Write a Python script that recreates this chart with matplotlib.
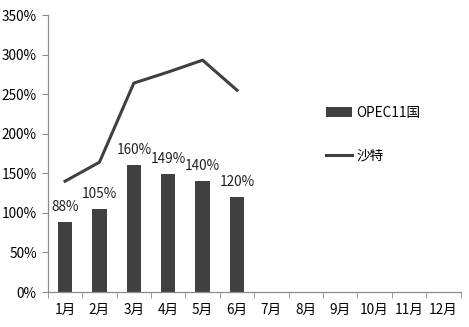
import matplotlib
matplotlib.use("Agg")
import matplotlib.pyplot as plt
from matplotlib.ticker import FuncFormatter, FixedLocator
import numpy as np

plt.rcParams['font.family'] = ['Noto Sans CJK SC', 'DejaVu Sans']

months = ["1月", "2月", "3月", "4月", "5月", "6月", "7月", "8月", "9月", "10月", "11月", "12月"]
opec11 = [88, 105, 160, 149, 140, 120]
saudi = [140, 164, 264, 278, 293, 255]

BAR_C = "#404040"
AX_C = "#8c8c8c"

fig = plt.figure(figsize=(4.69, 3.27), dpi=100)
ax = fig.add_axes([0.102, 0.107, 0.880, 0.847])

x_bar = np.arange(len(opec11))
bars = ax.bar(x_bar, opec11, width=0.42, color=BAR_C, label="OPEC11国", zorder=2)
for xi, v in zip(x_bar, opec11):
    ax.text(xi, v + 10, f"{v}%", ha="center", va="bottom", fontsize=9.8, color="#222222")

line, = ax.plot(np.arange(len(saudi)), saudi, color=BAR_C, lw=2.2, label="沙特", zorder=3)

ax.set_xlim(-0.5, len(months) - 0.5)
ax.set_ylim(0, 350)
ax.set_xticks(np.arange(len(months)))
ax.set_xticklabels(months, fontsize=9.8)
ax.xaxis.set_minor_locator(FixedLocator(np.arange(-0.5, len(months), 1)))
ax.tick_params(axis="x", which="major", length=0, pad=8)
ax.tick_params(axis="x", which="minor", length=4, color=AX_C, direction="out")
ax.set_yticks(np.arange(0, 351, 50))
ax.yaxis.set_major_formatter(FuncFormatter(lambda v, p: f"{int(v)}%"))
ax.tick_params(axis="y", length=4, color=AX_C, labelsize=9.8, pad=4)

for s in ["top", "right"]:
    ax.spines[s].set_visible(False)
for s in ["left", "bottom"]:
    ax.spines[s].set_color(AX_C)
    ax.spines[s].set_linewidth(0.9)

ax.legend([bars, line], ["OPEC11国", "沙特"], loc="center left",
          bbox_to_anchor=(0.645, 0.57), frameon=False,
          fontsize=9.8, labelspacing=2.1, handlelength=1.9, handletextpad=0.3)

fig.savefig("out.png", dpi=100)
